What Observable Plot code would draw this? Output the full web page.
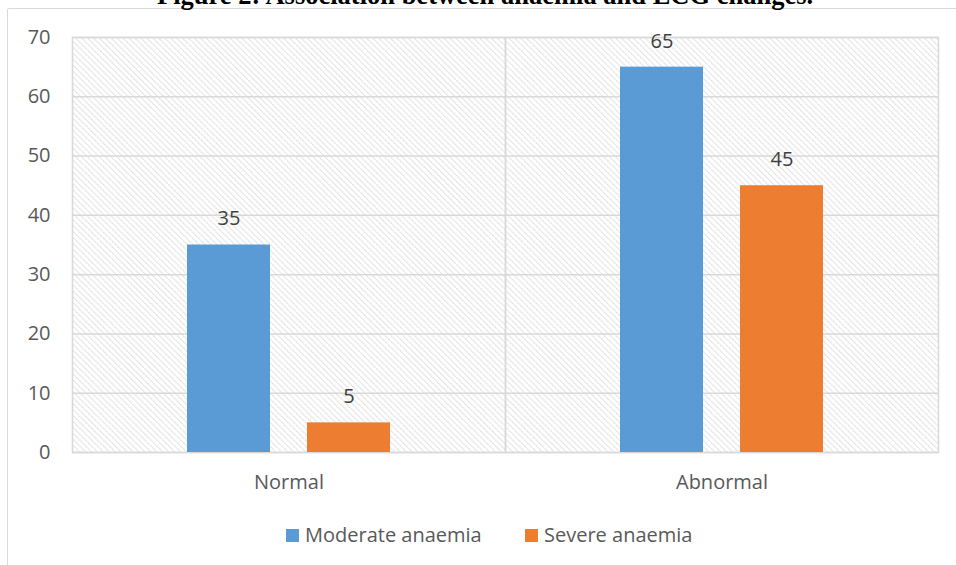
<!DOCTYPE html>
<html><head><meta charset="utf-8">
<script src="https://cdn.jsdelivr.net/npm/d3@7"></script>
<script src="https://cdn.jsdelivr.net/npm/@observablehq/plot@0.6"></script>
<style>
body{margin:0;background:#fff;}
#wrap{position:relative;width:956px;height:565px;overflow:hidden;font-family:"Open Sans",sans-serif;}
#title{position:absolute;left:157px;top:-18px;white-space:nowrap;font:bold 26.5px "Liberation Serif",serif;color:#000;line-height:1;}
#border{position:absolute;left:7px;top:8px;width:1000px;height:600px;border:1.5px solid #d9d9d9;border-radius:2px;}
#chart{position:absolute;left:0;top:0;}
.leg{position:absolute;top:522px;font-size:20px;color:#595959;white-space:nowrap;line-height:26px;}
.sw{position:absolute;width:13px;height:13px;top:529px;}
</style></head>
<body>
<div id="wrap">
  <div id="border"></div>
  <div id="chart"></div>
  <div id="title">Figure 2: Association between anaemia and ECG changes.</div>
  <div class="sw" style="left:286px;background:#5b9bd5"></div>
  <div class="leg" style="left:305px">Moderate anaemia</div>
  <div class="sw" style="left:525px;background:#ed7d31"></div>
  <div class="leg" style="left:544px">Severe anaemia</div>
</div>
<script>
const categories = ["Normal", "Abnormal"];
const series = ["Moderate anaemia", "Severe anaemia"];
const moderate = [35, 65];
const severe = [5, 45];
const yTicks = [0, 10, 20, 30, 40, 50, 60, 70];
const colors = ["#5b9bd5", "#ed7d31"];

const data = [];
categories.forEach((c, i) => {
  data.push({category: c, series: series[0], value: moderate[i]});
  data.push({category: c, series: series[1], value: severe[i]});
});

const svg = Plot.plot({
  width: 956,
  height: 510,
  marginLeft: 71,
  marginRight: 18,
  marginTop: 37,
  marginBottom: 58,
  style: {fontFamily: "'Open Sans', sans-serif", fontSize: "20px", color: "#595959", background: "transparent"},
  fx: {domain: categories, paddingInner: 0, paddingOuter: 0, label: null, axis: "bottom", tickSize: 0, tickPadding: 22},
  x: {domain: series, axis: null, paddingInner: 0.306, paddingOuter: 0.944},
  y: {domain: [0, 70], ticks: yTicks, tickSize: 0, tickPadding: 22, label: null},
  color: {domain: series, range: colors},
  marks: [
    Plot.frame({fill: "url(#hatch)"}),
    Plot.gridY(yTicks, {stroke: "#d9d9d9", strokeOpacity: 1, strokeWidth: 1.5}),
    Plot.frame({stroke: "#d9d9d9", strokeWidth: 1.5}),
    Plot.barY(data, {fx: "category", x: "series", y: "value", fill: "series"}),
    Plot.text(data, {fx: "category", x: "series", y: "value", text: d => String(d.value), dy: -26, fill: "#404040"})
  ]
});

d3.select(svg).insert("defs", ":first-child").html(
  `<pattern id="hatch" patternUnits="userSpaceOnUse" width="4.2" height="4.2" patternTransform="rotate(-45)">
     <line x1="0.6" y1="0" x2="0.6" y2="4.2" stroke="#dcdcdc" stroke-width="1.2" stroke-dasharray="1.4 0.7"/>
   </pattern>`
);
document.getElementById("chart").appendChild(svg);
</script>
</body></html>
